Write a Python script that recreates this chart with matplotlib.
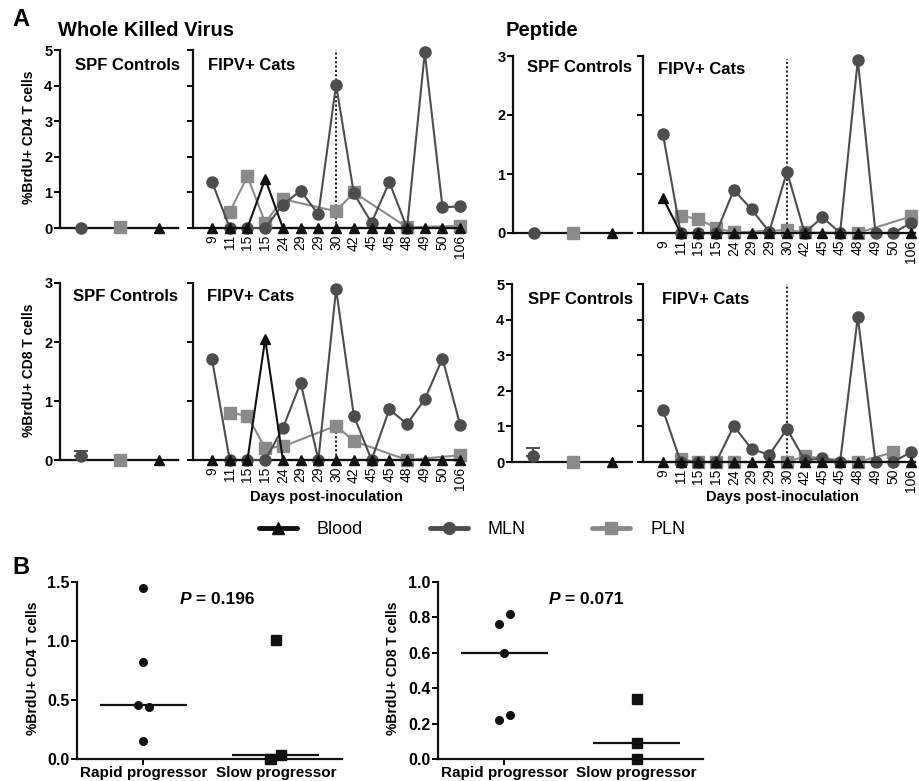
import numpy as np
import matplotlib
matplotlib.use("Agg")
import matplotlib.pyplot as plt
from matplotlib.lines import Line2D

plt.rcParams['font.family'] = ['Liberation Sans', 'DejaVu Sans']

nan = np.nan
days = ['9', '11', '15', '15', '24', '29', '29', '30', '42', '45', '45', '48', '49', '50', '106']

# Whole killed virus, CD4
wkv_cd4_mln = [1.30, 0, 0, 0, 0.66, 1.05, 0.38, 4.03, 0.97, 0.15, 1.29, 0, 4.93, 0.58, 0.61]
wkv_cd4_pln = [nan, 0.45, 1.45, 0.15, 0.81, nan, nan, 0.47, 1.00, nan, nan, 0.02, nan, nan, 0.06]
wkv_cd4_blood = [0, 0, 0, 1.38, 0, 0, 0, 0, 0, 0, 0, 0, 0, 0, 0]
# Whole killed virus, CD8
wkv_cd8_mln = [1.71, 0, 0, 0, 0.54, 1.31, 0, 2.90, 0.75, 0, 0.86, 0.61, 1.03, 1.72, 0.59]
wkv_cd8_pln = [nan, 0.80, 0.75, 0.20, 0.23, nan, nan, 0.58, 0.32, nan, nan, 0, nan, nan, 0.08]
wkv_cd8_blood = [0, 0, 0, 2.05, 0, 0, 0, 0, 0, 0, 0, 0, 0, 0, 0]
# Peptide, CD4
pep_cd4_mln = [1.67, 0, 0, 0, 0.73, 0.40, 0.02, 1.04, 0, 0.27, 0, 2.93, 0, 0, 0.17]
pep_cd4_pln = [nan, 0.29, 0.24, 0.08, 0.01, nan, nan, 0.05, 0.01, nan, nan, 0, nan, nan, 0.28]
pep_cd4_blood = [0.59, 0, 0, 0, 0, 0, 0, 0, 0, 0, 0, 0, nan, nan, 0]
# Peptide, CD8
pep_cd8_mln = [1.46, 0, 0, 0, 1.01, 0.37, 0.20, 0.93, 0.05, 0.10, 0, 4.08, 0, 0, 0.28]
pep_cd8_pln = [nan, 0.08, 0, 0, 0, nan, nan, 0, 0.16, nan, nan, 0, nan, 0.27, nan]
pep_cd8_blood = [0, 0, 0, 0, 0, 0, 0, 0, 0, 0, 0, 0, nan, nan, 0]

# SPF controls: MLN, PLN, Blood (mean) and MLN upper error
spf_wkv_cd4 = [0, 0.02, 0]
spf_wkv_cd8 = [0.07, 0, 0]
spf_pep_cd4 = [0, 0, 0]
spf_pep_cd8 = [0.17, 0, 0]
spf_err_wkv_cd4 = 0
spf_err_wkv_cd8 = 0.09
spf_err_pep_cd4 = 0
spf_err_pep_cd8 = 0.21

# Panel B
groups = ['Rapid progressor', 'Slow progressor']
rapid_cd4 = [1.45, 0.82, 0.46, 0.44, 0.15]
slow_cd4 = [1.01, 0.00, 0.03]
rapid_cd8 = [0.82, 0.76, 0.60, 0.25, 0.22]
slow_cd8 = [0.34, 0.09, 0.00]
p_cd4 = 'P = 0.196'
p_cd8 = 'P = 0.071'

C_BLOOD = '#111111'
C_MLN = '#4d4d4d'
C_PLN = '#8a8a8a'

W, H = 920, 781
fig = plt.figure(figsize=(W / 100, H / 100), dpi=100)


def add_ax(x0, y0, x1, y1):
    return fig.add_axes([x0 / W, 1 - y1 / H, (x1 - x0) / W, (y1 - y0) / H])


def ftext(x, y, s, **kw):
    fig.text(x / W, 1 - y / H, s, **kw)


def style(ax, yticks, labels=True, fs=10.5):
    for s in ['top', 'right']:
        ax.spines[s].set_visible(False)
    for s in ['left', 'bottom']:
        ax.spines[s].set_linewidth(1.6)
        ax.spines[s].set_color('#111111')
    ax.set_yticks(yticks)
    ax.tick_params(axis='y', length=4, width=1.4, pad=1.5, labelsize=fs)
    if labels:
        for t in ax.get_yticklabels():
            t.set_fontweight('bold')
    else:
        ax.set_yticklabels([])


def spf_panel(ax, vals, err, ymax, yticks):
    xs = np.arange(3)
    ax.set_xlim(-0.53, 2.5)
    ax.set_ylim(0, ymax)
    style(ax, yticks)
    ax.set_xticks([])
    if err > 0:
        ax.errorbar([xs[0]], [vals[0]], yerr=[[0], [err]], fmt='none', ecolor=C_MLN,
                    elinewidth=1.4, capsize=5, capthick=1.4, clip_on=False, zorder=3)
    ax.plot(xs[0], vals[0], 'o', color=C_MLN, ms=8, clip_on=False, zorder=4)
    ax.plot(xs[1], vals[1], 's', color=C_PLN, ms=8.5, clip_on=False, zorder=4)
    ax.plot(xs[2], vals[2], '^', color=C_BLOOD, ms=7.5, clip_on=False, zorder=4)


def series(ax, vals, color, marker, ms, z):
    v = np.array(vals, dtype=float)
    idx = np.arange(len(v))
    m = ~np.isnan(v)
    ax.plot(idx[m], v[m], marker=marker, color=color, ms=ms, lw=1.5,
            clip_on=False, zorder=z)


def fipv_panel(ax, mln, pln, blood, ymax, yticks, vtop, xl):
    ax.set_xlim(*xl)
    ax.set_ylim(0, ymax)
    style(ax, yticks, labels=False)
    ax.set_xticks(np.arange(len(days)))
    ax.set_xticklabels(days, rotation=90, fontsize=10)
    ax.tick_params(axis='x', length=0, pad=5)
    ax.vlines(days.index('30'), 0, vtop, colors='#111111', linestyles=(0, (1.2, 1.2)),
              lw=1.3, zorder=2)
    series(ax, pln, C_PLN, 's', 8.5, 3)
    series(ax, mln, C_MLN, 'o', 8, 4)
    series(ax, blood, C_BLOOD, '^', 7.5, 5)


# Row 1
a = add_ax(60, 50, 178, 228)
spf_panel(a, spf_wkv_cd4, spf_err_wkv_cd4, 5, range(6))
a = add_ax(193, 50, 462, 228)
fipv_panel(a, wkv_cd4_mln, wkv_cd4_pln, wkv_cd4_blood, 5, range(6), 5.1, (-1.07, 14.1))
a = add_ax(513, 56, 632, 233)
spf_panel(a, spf_pep_cd4, spf_err_pep_cd4, 3, range(4))
a = add_ax(643, 56, 915, 233)
fipv_panel(a, pep_cd4_mln, pep_cd4_pln, pep_cd4_blood, 3, range(4), 2.95, (-1.13, 14.23))

# Row 2
a = add_ax(60, 283, 178, 460)
spf_panel(a, spf_wkv_cd8, spf_err_wkv_cd8, 3, range(4))
a = add_ax(193, 283, 462, 460)
fipv_panel(a, wkv_cd8_mln, wkv_cd8_pln, wkv_cd8_blood, 3, range(4), 0.58, (-1.07, 14.1))
a = add_ax(512, 284, 632, 462)
spf_panel(a, spf_pep_cd8, spf_err_pep_cd8, 5, range(6))
a = add_ax(643, 284, 915, 462)
fipv_panel(a, pep_cd8_mln, pep_cd8_pln, pep_cd8_blood, 5, range(6), 5.1, (-1.13, 14.23))

# Texts panel A
ftext(12, 20, 'A', fontsize=17, fontweight='bold', va='center')
ftext(58, 31, 'Whole Killed Virus', fontsize=14.5, fontweight='bold', va='center')
ftext(506, 31, 'Peptide', fontsize=14.5, fontweight='bold', va='center')
for (x, y) in [(75, 65), (73, 297), (527, 68), (528, 299)]:
    ftext(x, y, 'SPF Controls', fontsize=12, fontweight='bold', va='center')
for (x, y) in [(208, 65), (207, 297), (658, 70), (662, 299)]:
    ftext(x, y, 'FIPV+ Cats', fontsize=12, fontweight='bold', va='center')
ftext(29, 137, '%BrdU+ CD4 T cells', fontsize=10, fontweight='bold', rotation=90,
      va='center', ha='center')
ftext(29, 370, '%BrdU+ CD8 T cells', fontsize=10, fontweight='bold', rotation=90,
      va='center', ha='center')
ftext(326, 497, 'Days post-inoculation', fontsize=10.5, fontweight='bold', ha='center', va='center')
ftext(782, 497, 'Days post-inoculation', fontsize=10.5, fontweight='bold', ha='center', va='center')

# Legend
handles = [
    Line2D([], [], color=C_BLOOD, lw=3.5, marker='^', ms=8, solid_capstyle='round'),
    Line2D([], [], color=C_MLN, lw=3.5, marker='o', ms=8.5, solid_capstyle='round'),
    Line2D([], [], color=C_PLN, lw=3.5, marker='s', ms=8.5, solid_capstyle='round'),
]
fig.legend(handles, ['Blood', 'MLN', 'PLN'], loc='center', bbox_to_anchor=(472 / W, 1 - 530 / H),
           ncol=3, frameon=False, fontsize=13, handlelength=2.1, handletextpad=1.1,
           columnspacing=3.7)

# Panel B
ftext(12, 567, 'B', fontsize=17, fontweight='bold', va='center')


def b_panel(ax, rapid, slow, ymax, yticks, r_off, s_off, ptxt, px, py):
    ax.set_xlim(-0.5, 1.5)
    ax.set_ylim(0, ymax)
    style(ax, yticks, fs=11.5)
    ax.set_yticklabels(['%.1f' % t for t in yticks], fontweight='bold')
    ax.set_xticks([0, 1])
    ax.set_xticklabels(groups, fontsize=11, fontweight='bold')
    ax.tick_params(axis='x', length=4, width=1.4, pad=1)
    ax.plot(0 + np.array(r_off), rapid, 'o', color='#111111', ms=5.5, clip_on=False, zorder=4)
    ax.plot(1 + np.array(s_off), slow, 's', color='#111111', ms=6.5, clip_on=False, zorder=4)
    ax.hlines(np.median(rapid), -0.33, 0.33, colors='#111111', lw=1.6, zorder=3)
    ax.hlines(np.median(slow), 0.67, 1.33, colors='#111111', lw=1.6, zorder=3)
    ax.text(px, py, ptxt[0], fontsize=12.5, fontweight='bold', fontstyle='italic',
            ha='right', va='center')
    ax.text(px, py, ptxt[1:], fontsize=12.5, fontweight='bold', ha='left', va='center')


a = add_ax(77, 582, 342, 759)
b_panel(a, rapid_cd4, slow_cd4, 1.5, [0, 0.5, 1.0, 1.5], [0, 0, -0.04, 0.04, 0],
        [0, -0.04, 0.04], p_cd4, 0.36, 1.35)
ftext(33, 668, '%BrdU+ CD4 T cells', fontsize=10, fontweight='bold', rotation=90,
      va='center', ha='center')
a = add_ax(438, 582, 703, 759)
b_panel(a, rapid_cd8, slow_cd8, 1.0, [0, 0.2, 0.4, 0.6, 0.8, 1.0], [0.04, -0.04, 0, 0.04, -0.04],
        [0, 0, 0], p_cd8, 0.42, 0.9)
ftext(393, 668, '%BrdU+ CD8 T cells', fontsize=10, fontweight='bold', rotation=90,
      va='center', ha='center')

fig.savefig('out.png', dpi=100)
